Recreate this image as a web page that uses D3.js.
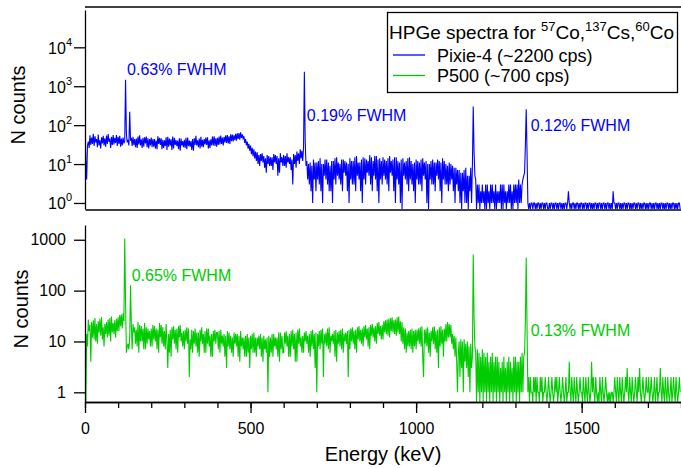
<!DOCTYPE html>
<html>
<head>
<meta charset="utf-8">
<script src="https://cdn.jsdelivr.net/npm/d3@7/dist/d3.min.js"></script>
<style>
  body { margin: 0; background: #fff; }
  svg { font-family: "Liberation Sans", Arial, sans-serif; }
  .axis path, .axis line { stroke: #000; stroke-width: 1.3; }
  .axis text { font-size: 16px; fill: #000; font-family: "Liberation Sans", Arial, sans-serif; }
  .spectrum { fill: none; stroke-width: 1.1; }
</style>
</head>
<body>
<div id="chart"></div>
<script>
// largura do canal (keV) usada nas duas séries
const binKeV = 2.5;

// Pixie-4 (~2200 cps), duas linhas = 100 keV
const pixieCounts = [
  90, 12, 4, 30, 38, 26, 55, 31, 48, 33, 60, 29, 52, 36, 44, 27, 57, 30, 41, 25,
  49, 34, 53, 30, 46, 28, 54, 33, 59, 37, 45, 26, 50, 31, 56, 32, 47, 35, 56, 29,
  50, 33, 53, 28, 45, 30, 48, 34, 40, 1460, 60, 36, 42, 30, 222, 40, 47, 29, 50, 31,
  44, 27, 45, 26, 51, 32, 55, 30, 43, 26, 47, 28, 49, 34, 51, 27, 46, 25, 44, 30,
  48, 27, 44, 28, 44, 25, 40, 24, 52, 33, 47, 31, 46, 24, 42, 26, 41, 29, 49, 23,
  50, 28, 45, 30, 43, 23, 51, 25, 47, 31, 41, 29, 40, 24, 46, 22, 45, 30, 39, 27,
  42, 26, 47, 24, 48, 29, 40, 28, 39, 23, 44, 22, 46, 31, 53, 30, 41, 27, 45, 25,
  50, 28, 42, 27, 44, 32, 48, 31, 49, 25, 41, 26, 43, 30, 51, 30, 52, 29, 46, 28,
  47, 31, 51, 32, 54, 33, 48, 30, 50, 36, 55, 35, 56, 34, 52, 33, 58, 39, 57, 38,
  55, 41, 60, 40, 62, 44, 63, 42, 65, 47, 58, 45, 52, 35, 44, 30, 38, 25, 33, 22,
  30, 18, 26, 16, 24, 14, 21, 12, 20, 10, 17, 9, 18, 12, 19, 11, 16, 8, 14, 6,
  17, 10, 16, 9, 15, 9, 15, 7, 18, 11, 17, 10, 16, 5, 14, 6, 19, 11, 15, 9,
  17, 9, 16, 8, 19, 11, 15, 10, 15, 7, 13, 3, 18, 10, 17, 8, 21, 12, 19, 10,
  24, 14, 22, 12, 26, 2340, 40, 9, 12, 4, 10, 3, 11, 2, 9, 1, 13, 4, 11, 2,
  11, 4, 12, 3, 14, 2, 10, 1, 10, 5, 13, 4, 13, 3, 11, 2, 9, 2, 12, 1,
  12, 4, 14, 3, 15, 5, 11, 4, 10, 3, 13, 2, 13, 6, 12, 5, 11, 2, 10, 1,
  14, 4, 12, 3, 12, 3, 15, 2, 16, 5, 11, 4, 11, 2, 13, 1, 15, 4, 14, 3,
  13, 6, 12, 5, 17, 3, 15, 2, 12, 5, 16, 4, 16, 2, 13, 1, 14, 4, 12, 3,
  15, 5, 13, 4, 12, 3, 14, 2, 16, 6, 12, 5, 13, 2, 15, 1, 15, 4, 12, 3,
  11, 1, 13, 0, 14, 5, 11, 4, 12, 3, 14, 2, 15, 4, 12, 3, 10, 2, 11, 1,
  13, 4, 12, 3, 11, 3, 13, 2, 14, 5, 11, 4, 12, 1, 10, 0, 10, 4, 12, 3,
  13, 3, 11, 2, 11, 5, 13, 4, 12, 2, 11, 1, 14, 4, 12, 3, 10, 3, 9, 2,
  11, 3, 10, 4, 9, 2, 8, 1, 8, 3, 7, 2, 7, 1, 6, 0, 6, 2, 7, 1,
  8, 1, 5, 0, 5, 2, 8, 1, 9, 300, 20, 5, 4, 0, 3, 1, 3, 0, 2, 1,
  3, 1, 2, 0, 3, 0, 3, 1, 2, 0, 3, 1, 3, 1, 2, 0, 3, 0, 2, 1,
  2, 1, 3, 0, 3, 0, 3, 1, 2, 0, 2, 1, 3, 1, 3, 0, 2, 0, 3, 1,
  3, 1, 3, 0, 4, 1, 3, 1, 3, 4, 5, 6, 30, 256, 20, 1, 0, 1, 0, 1,
  1, 0, 1, 1, 0, 1, 0, 1, 1, 0, 1, 0, 1, 1, 0, 1, 0, 1, 1, 0,
  0, 1, 0, 1, 1, 0, 1, 0, 1, 1, 0, 1, 0, 1, 1, 0, 1, 0, 1, 0,
  1, 1, 0, 1, 2, 1, 0, 1, 0, 1, 1, 0, 1, 0, 1, 1, 0, 1, 0, 1,
  1, 0, 1, 0, 1, 1, 0, 1, 0, 1, 1, 0, 1, 0, 1, 0, 1, 1, 0, 1,
  0, 1, 1, 0, 1, 0, 1, 1, 0, 1, 0, 1, 1, 0, 1, 0, 1, 0, 2, 1,
  1, 0, 1, 0, 1, 1, 0, 1, 0, 1, 0, 1, 1, 0, 1, 0, 1, 1, 0, 1,
  0, 1, 0, 1, 1, 0, 1, 0, 1, 1, 0, 1, 0, 1, 0, 1, 1, 0, 1, 0,
  1, 0, 1, 1, 0, 1, 0, 1, 0, 1, 1, 0, 1, 0, 1, 0, 1, 1, 0, 1,
  0, 1, 0, 1, 1, 0, 1, 0, 1, 0, 1, 1, 0, 1, 0, 1, 0, 1, 1, 0
];

// P500 (~700 cps)
const p500Counts = [
  36, 0, 14, 8, 27, 16, 21, 4, 24, 12, 26, 11, 29, 10, 22, 9, 25, 15, 28, 13,
  30, 11, 19, 8, 22, 14, 24, 12, 27, 13, 29, 10, 31, 15, 23, 14, 26, 12, 28, 16,
  30, 16, 33, 20, 34, 18, 36, 25, 1060, 60, 6, 8, 9, 7, 12, 128, 20, 7, 22, 15,
  19, 9, 17, 8, 24, 6, 21, 10, 20, 10, 18, 7, 23, 7, 19, 9, 18, 11, 16, 8,
  18, 8, 21, 11, 20, 10, 18, 7, 17, 6, 23, 12, 21, 9, 19, 8, 16, 7, 22, 10,
  3, 14, 6, 17, 5, 19, 11, 20, 9, 17, 7, 18, 6, 20, 12, 21, 10, 15, 8, 16,
  7, 17, 10, 19, 9, 18, 2, 11, 7, 17, 6, 16, 9, 18, 8, 15, 6, 15, 5, 17,
  10, 19, 9, 14, 6, 16, 6, 18, 9, 18, 8, 13, 5, 14, 5, 16, 10, 17, 9, 15,
  15, 7, 16, 6, 17, 9, 13, 8, 14, 5, 13, 3, 16, 8, 15, 7, 13, 6, 12, 5,
  15, 9, 14, 8, 14, 5, 13, 4, 16, 8, 12, 7, 12, 5, 13, 5, 14, 6, 12, 3,
  13, 7, 14, 6, 15, 6, 12, 5, 12, 8, 13, 7, 14, 5, 12, 4, 13, 7, 11, 6,
  12, 1, 13, 5, 12, 6, 14, 5, 14, 8, 12, 7, 12, 5, 15, 4, 15, 7, 13, 6,
  6, 15, 9, 16, 8, 13, 5, 14, 5, 16, 8, 17, 7, 14, 4, 15, 4, 17, 9, 18,
  8, 12, 6, 13, 6, 15, 10, 16, 9, 13, 6, 14, 5, 16, 8, 17, 7, 14, 3, 15,
  1, 14, 8, 16, 7, 17, 9, 18, 2, 14, 9, 15, 8, 18, 7, 19, 6, 13, 10, 14,
  9, 16, 5, 17, 4, 15, 9, 16, 8, 17, 7, 18, 6, 14, 10, 15, 9, 16, 2, 17,
  7, 18, 10, 19, 9, 16, 7, 17, 6, 19, 11, 20, 10, 17, 9, 18, 8, 20, 12, 21,
  11, 18, 8, 19, 7, 21, 13, 22, 12, 19, 10, 20, 9, 23, 14, 24, 13, 20, 11, 21,
  11, 25, 15, 26, 14, 27, 13, 28, 12, 29, 16, 30, 15, 26, 14, 27, 13, 30, 15, 31,
  14, 25, 10, 24, 9, 19, 7, 18, 6, 15, 8, 16, 8, 17, 7, 18, 6, 16, 8, 17,
  7, 17, 10, 18, 9, 19, 8, 20, 5, 2, 17, 9, 18, 8, 19, 6, 15, 5, 16, 10,
  19, 9, 20, 7, 16, 6, 17, 3, 19, 8, 20, 9, 17, 5, 18, 10, 22, 10, 24, 12,
  22, 12, 21, 9, 14, 7, 13, 5, 12, 4, 1, 6, 10, 2, 11, 3, 10, 1, 11, 4,
  9, 3, 10, 2, 8, 1, 9, 3, 5, 512, 30, 8, 6, 0, 7, 1, 6, 0, 5, 1,
  7, 0, 6, 1, 5, 0, 6, 1, 4, 0, 5, 1, 6, 0, 4, 1, 5, 0, 5, 1,
  4, 0, 3, 1, 4, 0, 5, 1, 3, 0, 4, 1, 5, 0, 4, 1, 3, 0, 5, 1,
  5, 0, 4, 1, 4, 0, 5, 1, 6, 1, 5, 6, 25, 448, 20, 1, 2, 0, 2, 1,
  1, 0, 2, 1, 2, 0, 2, 1, 1, 0, 2, 1, 2, 0, 1, 1, 2, 1, 0, 1,
  2, 1, 0, 1, 2, 1, 0, 1, 2, 1, 2, 0, 1, 2, 1, 0, 1, 2, 1, 0,
  1, 2, 0, 1, 1, 4, 1, 0, 2, 1, 0, 2, 1, 0, 2, 1, 0, 1, 2, 1,
  1, 0, 2, 1, 0, 2, 1, 0, 2, 1, 0, 1, 4, 1, 2, 1, 0, 2, 1, 0,
  1, 0, 2, 1, 0, 2, 1, 0, 1, 2, 1, 0, 1, 0, 1, 0, 1, 1, 0, 1,
  2, 1, 0, 2, 1, 0, 2, 1, 0, 2, 1, 0, 1, 2, 1, 3, 1, 0, 2, 1,
  0, 2, 1, 0, 1, 2, 1, 0, 2, 1, 3, 1, 0, 1, 2, 1, 0, 1, 2, 1,
  1, 2, 0, 1, 2, 1, 0, 1, 2, 0, 1, 2, 0, 1, 1, 3, 1, 0, 2, 1,
  0, 2, 1, 0, 2, 1, 0, 1, 2, 0, 1, 2, 1, 0, 2, 1, 0, 1, 2, 1
];

const energyDomain = [0, 1800];
const energyMajorTicks = [0, 500, 1000, 1500];
const pixieTicks = [1, 10, 100, 1000, 10000];
const p500Ticks = [1, 10, 100, 1000];

// rótulos de resolução: energia (keV) e contagem do canto esquerdo do texto
const pixieNotes = [
  { text: "0.63% FWHM", energy: 127, counts: 1900 },
  { text: "0.19% FWHM", energy: 670, counts: 128 },
  { text: "0.12% FWHM", energy: 1346, counts: 71 }
];
const p500Notes = [
  { text: "0.65% FWHM", energy: 141, counts: 153 },
  { text: "0.13% FWHM", energy: 1346, counts: 12.7 }
];

const legendItems = [
  { label: "Pixie-4 (~2200 cps)", color: "#0000ff" },
  { label: "P500 (~700 cps)", color: "#00cc00" }
];

const W = 681, H = 468;
const svg = d3.select("#chart").append("svg")
  .attr("width", W)
  .attr("height", H);

const x = d3.scaleLinear().domain(energyDomain).range([85, 681]);

const yTop = d3.scaleLog().domain([0.7, 91000]).range([209, 10]);
const yBot = d3.scaleLog().domain([0.645, 1950]).range([402, 225]);

// desenha um espectro num painel
function desenharEspectro(counts, y, color, clipId) {
  const [y0, y1] = y.range();
  svg.append("clipPath").attr("id", clipId)
    .append("rect")
      .attr("x", x.range()[0]).attr("y", y1)
      .attr("width", x.range()[1] - x.range()[0]).attr("height", y0 - y1);

  const floor = y.domain()[0];
  const line = d3.line()
    .x((d, i) => x(i * binKeV))
    .y(d => y(Math.max(d, floor)));

  svg.append("path")
    .attr("class", "spectrum")
    .attr("clip-path", `url(#${clipId})`)
    .attr("stroke", color)
    .attr("d", line(counts));
}

desenharEspectro(pixieCounts, yTop, legendItems[0].color, "clipTop");
desenharEspectro(p500Counts, yBot, legendItems[1].color, "clipBot");

// Painel superior: eixo y com potências de 10
const gTopY = svg.append("g")
  .attr("class", "axis")
  .attr("transform", "translate(85,0)")
  .call(d3.axisLeft(yTop).tickValues(pixieTicks).tickSize(11).tickSizeOuter(0).tickFormat(""));

gTopY.selectAll(".tick").append("text")
  .attr("x", -13)
  .attr("y", 6)
  .attr("text-anchor", "end")
  .each(function(d) {
    const t = d3.select(this);
    t.append("tspan").text("10");
    t.append("tspan").attr("dy", -8).style("font-size", "11px").text(Math.round(Math.log10(d)));
  });

// linha do eixo x do painel superior (sem marcas)
svg.append("g")
  .attr("class", "axis")
  .attr("transform", "translate(0,209.5)")
  .call(d3.axisBottom(x).tickValues([]).tickSizeOuter(0));

// linha superior
svg.append("line")
  .attr("x1", 85).attr("x2", 681)
  .attr("y1", 7).attr("y2", 7)
  .attr("stroke", "#000").attr("stroke-width", 1.3);

// Painel inferior
svg.append("g")
  .attr("class", "axis")
  .attr("transform", "translate(85,0)")
  .call(d3.axisLeft(yBot).tickValues(p500Ticks).tickSize(11).tickSizeOuter(0).tickPadding(8).tickFormat(d3.format("d")));

svg.append("g")
  .attr("class", "axis")
  .attr("transform", "translate(0,402)")
  .call(d3.axisBottom(x).tickValues(d3.range(0, 1801, 100)).tickSize(6).tickSizeOuter(0).tickFormat(""));

svg.append("g")
  .attr("class", "axis")
  .attr("transform", "translate(0,402)")
  .call(d3.axisBottom(x).tickValues(energyMajorTicks).tickSize(11).tickSizeOuter(0).tickPadding(10).tickFormat(d3.format("d")));

// títulos dos eixos
svg.append("text")
  .attr("transform", "translate(25,105) rotate(-90)")
  .attr("text-anchor", "middle")
  .style("font-size", "20px")
  .text("N counts");

svg.append("text")
  .attr("transform", "translate(28,309) rotate(-90)")
  .attr("text-anchor", "middle")
  .style("font-size", "20px")
  .text("N counts");

svg.append("text")
  .attr("x", x(900))
  .attr("y", 461)
  .attr("text-anchor", "middle")
  .style("font-size", "20px")
  .text("Energy (keV)");

// anotações FWHM
function anotar(notes, y, color) {
  svg.selectAll(null)
    .data(notes)
    .join("text")
      .attr("x", d => x(d.energy))
      .attr("y", d => y(d.counts))
      .attr("fill", color)
      .style("font-size", "16px")
      .text(d => d.text);
}
anotar(pixieNotes, yTop, legendItems[0].color);
anotar(p500Notes, yBot, legendItems[1].color);

// Legenda
const leg = svg.append("g");
leg.append("rect")
  .attr("x", 387.5).attr("y", 12.5)
  .attr("width", 290).attr("height", 80)
  .attr("fill", "#fff").attr("stroke", "#000").attr("stroke-width", 1.3);

const titulo = leg.append("text")
  .attr("x", 389).attr("y", 39)
  .style("font-size", "19px");
titulo.append("tspan").text("HPGe spectra for ");
titulo.append("tspan").attr("dy", -8).style("font-size", "13px").text("57");
titulo.append("tspan").attr("dy", 8).text("Co,");
titulo.append("tspan").attr("dy", -8).style("font-size", "13px").text("137");
titulo.append("tspan").attr("dy", 8).text("Cs,");
titulo.append("tspan").attr("dy", -8).style("font-size", "13px").text("60");
titulo.append("tspan").attr("dy", 8).text("Co");

const itens = leg.selectAll(".item")
  .data(legendItems)
  .join("g")
    .attr("class", "item")
    .attr("transform", (d, i) => `translate(0,${55 + i * 20.5})`);

itens.append("line")
  .attr("x1", 393).attr("x2", 425)
  .attr("stroke", d => d.color).attr("stroke-width", 1.3);

itens.append("text")
  .attr("x", 437).attr("y", 6.5)
  .style("font-size", "18px")
  .text(d => d.label);
</script>
</body>
</html>
